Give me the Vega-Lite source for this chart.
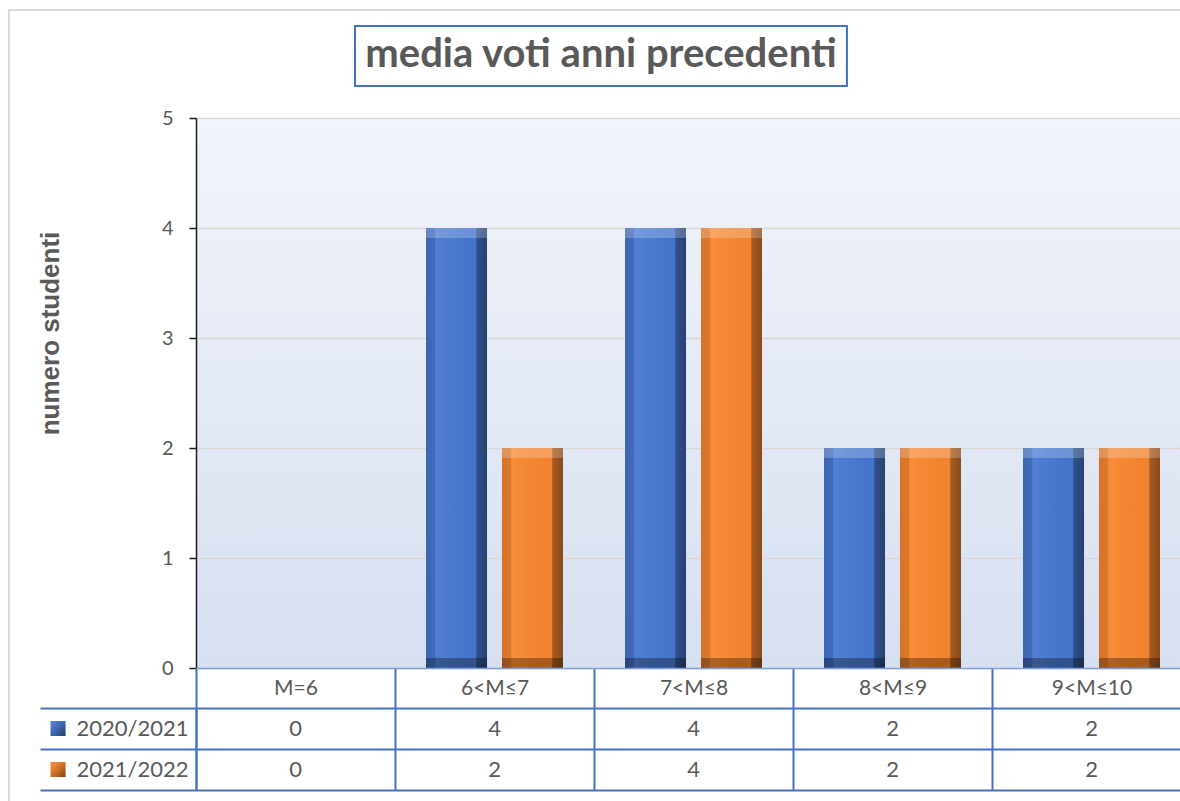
{
  "$schema": "https://vega.github.io/schema/vega-lite/v6.json",
  "width": 984,
  "height": 550,
  "autosize": {"type": "none"},
  "padding": {"left": 196, "top": 118, "right": 0, "bottom": 133},
  "background": "white",
  "view": {
    "fill": {"gradient": "linear", "x1": 0, "y1": 0, "x2": 0, "y2": 1,
      "stops": [{"offset": 0, "color": "#f1f4fa"}, {"offset": 1, "color": "#d7e0f1"}]},
    "stroke": null
  },
  "data": {
    "values": [
      {"cat": "M=6", "year": "2020/2021", "value": 0},
      {"cat": "M=6", "year": "2021/2022", "value": 0},
      {"cat": "6<M≤7", "year": "2020/2021", "value": 4},
      {"cat": "6<M≤7", "year": "2021/2022", "value": 2},
      {"cat": "7<M≤8", "year": "2020/2021", "value": 4},
      {"cat": "7<M≤8", "year": "2021/2022", "value": 4},
      {"cat": "8<M≤9", "year": "2020/2021", "value": 2},
      {"cat": "8<M≤9", "year": "2021/2022", "value": 2},
      {"cat": "9<M≤10", "year": "2020/2021", "value": 2},
      {"cat": "9<M≤10", "year": "2021/2022", "value": 2}
    ]
  },
  "layer": [
    {
      "layer": [
        {
          "mark": {"type": "rect", "fill": "transparent", "stroke": "#d9d9d9", "strokeWidth": 2},
          "data": {"values": [{}]},
          "encoding": {
            "x": {"datum": "M=6", "type": "nominal", "bandPosition": -0.94},
            "x2": {"datum": "9<M≤10", "bandPosition": 1.5},
            "y": {"datum": 5.982, "type": "quantitative"},
            "y2": {"datum": -1.3}
          }
        },
        {
          "mark": {"type": "bar"},
          "encoding": {
            "x": {
              "field": "cat", "type": "nominal",
              "scale": {"domain": ["M=6", "6<M≤7", "7<M≤8", "8<M≤9", "9<M≤10"], "range": [0, 995], "paddingInner": 0, "paddingOuter": 0},
              "axis": {"title": null}
            },
            "xOffset": {
              "field": "year", "type": "nominal",
              "scale": {"domain": ["2020/2021", "2021/2022"], "paddingInner": 0.197, "paddingOuter": 0.408}
            },
            "y": {
              "field": "value", "type": "quantitative",
              "scale": {"domain": [0, 5], "nice": false, "zero": true},
              "axis": {
                "orient": "left", "values": [0, 1, 2, 3, 4, 5], "format": "d", "title": "numero studenti",
                "titleFont": "Liberation Sans", "titleFontSize": 26, "titleFontWeight": "bold", "titleColor": "#595959",
                "titleX": -133, "titleY": 215, "titleAngle": -90, "titleBaseline": "bottom", "titleAlign": "center",
                "grid": true, "gridColor": "#dad6d2", "gridWidth": 1.5,
                "domainColor": "#1a1a1a", "domainWidth": 1.5, "tickColor": "#1a1a1a", "tickWidth": 1.5, "tickSize": 7,
                "labelPadding": 16, "labelFont": "Lato", "labelFontSize": 20, "labelColor": "#595959"
              }
            },
            "color": {
              "field": "year", "type": "nominal",
              "scale": {"domain": ["2020/2021", "2021/2022"], "range": ["#4677cf", "#f7862f"]},
              "legend": null
            }
          }
        },
        {
          "transform": [{"filter": "datum.value > 0"}],
          "mark": {
            "type": "bar",
            "fill": {"gradient": "linear", "x1": 0, "y1": 0, "x2": 1, "y2": 0,
              "stops": [
                {"offset": 0, "color": "rgba(0,0,0,0.14)"},
                {"offset": 0.15, "color": "rgba(0,0,0,0.10)"},
                {"offset": 0.16, "color": "rgba(255,255,255,0.06)"},
                {"offset": 0.82, "color": "rgba(0,0,0,0.02)"},
                {"offset": 0.83, "color": "rgba(0,0,0,0.32)"},
                {"offset": 1, "color": "rgba(0,0,0,0.45)"}
              ]}
          },
          "encoding": {
            "x": {"field": "cat", "type": "nominal", "axis": {"title": null}},
            "xOffset": {"field": "year", "type": "nominal"},
            "y": {"field": "value", "type": "quantitative"}
          }
        },
        {
          "transform": [{"filter": "datum.value > 0"}],
          "mark": {"type": "tick", "thickness": 10, "size": 61, "yOffset": 5, "color": "white", "opacity": 0.22},
          "encoding": {
            "x": {"field": "cat", "type": "nominal", "axis": {"title": null}},
            "xOffset": {"field": "year", "type": "nominal"},
            "y": {"field": "value", "type": "quantitative"}
          }
        },
        {
          "transform": [{"filter": "datum.value > 0"}],
          "mark": {"type": "tick", "thickness": 10, "size": 61, "yOffset": -5, "color": "black", "opacity": 0.3},
          "encoding": {
            "x": {"field": "cat", "type": "nominal", "axis": {"title": null}},
            "xOffset": {"field": "year", "type": "nominal"},
            "y": {"datum": 0, "type": "quantitative"}
          }
        },
        {
          "mark": {"type": "rect", "fill": "white", "stroke": "#4472c4", "strokeWidth": 2},
          "data": {"values": [{}]},
          "encoding": {
            "x": {"datum": "M=6", "type": "nominal", "bandPosition": 0.799},
            "x2": {"datum": "8<M≤9", "bandPosition": 0.271},
            "y": {"datum": 5.836, "type": "quantitative"},
            "y2": {"datum": 5.291}
          }
        },
        {
          "mark": {"type": "text", "text": "media voti anni precedenti", "font": "Lato", "fontSize": 40, "fontWeight": "bold", "color": "#595959", "align": "center", "baseline": "middle"},
          "data": {"values": [{}]},
          "encoding": {
            "x": {"datum": "7<M≤8", "type": "nominal", "bandPosition": 0.035},
            "y": {"datum": 5.57, "type": "quantitative"}
          }
        }
      ]
    },
    {
      "layer": [
        {
          "mark": {"type": "text", "font": "Lato", "fontSize": 22, "color": "#595959", "baseline": "middle"},
          "encoding": {
            "x": {"field": "cat", "type": "nominal", "axis": {"title": null}},
            "y": {
              "field": "year", "type": "nominal",
              "scale": {"domain": ["2020/2021", "2021/2022"], "range": [590, 672], "paddingInner": 0, "paddingOuter": 0},
              "axis": {
                "orient": "left", "title": null, "grid": true, "gridColor": "#4472c4", "gridWidth": 2,
                "tickBand": "extent", "ticks": true, "tickSize": 156, "tickColor": "#4472c4", "tickWidth": 2,
                "domain": true, "domainColor": "#4472c4", "domainWidth": 2,
                "labelPadding": -148, "labelFont": "Lato", "labelFontSize": 22, "labelColor": "#595959",
                "labelBaseline": "middle", "labelAlign": "right", "labelOverlap": false
              }
            },
            "text": {"field": "value", "type": "quantitative"}
          }
        },
        {
          "transform": [{"filter": "datum.cat === 'M=6'"}],
          "mark": {"type": "square", "size": 225, "xOffset": -138, "opacity": 1, "filled": true},
          "encoding": {
            "x": {"field": "cat", "type": "nominal", "bandPosition": 0, "axis": {"title": null}},
            "y": {"field": "year", "type": "nominal"},
            "color": {"field": "year", "type": "nominal", "legend": null}
          }
        },
        {
          "transform": [{"filter": "datum.cat === 'M=6'"}],
          "mark": {"type": "square", "size": 225, "xOffset": -138, "opacity": 1, "filled": true,
            "fill": {"gradient": "linear", "x1": 0, "y1": 0, "x2": 1, "y2": 1,
              "stops": [
                {"offset": 0, "color": "rgba(255,255,255,0.1)"},
                {"offset": 0.5, "color": "rgba(0,0,0,0.15)"},
                {"offset": 1, "color": "rgba(0,0,0,0.5)"}
              ]}},
          "encoding": {
            "x": {"field": "cat", "type": "nominal", "bandPosition": 0, "axis": {"title": null}},
            "y": {"field": "year", "type": "nominal"}
          }
        }
      ]
    }
  ],
  "resolve": {"scale": {"y": "independent"}, "axis": {"y": "independent"}},
  "config": {
    "font": "Lato",
    "axisX": {
      "orient": "bottom", "domain": true, "domainColor": "#7f9fd8", "domainWidth": 1.5,
      "ticks": true, "tickBand": "extent", "tickSize": 122, "tickColor": "#4472c4", "tickWidth": 2,
      "labelPadding": -102, "labelBaseline": "middle", "labelAlign": "center", "labelFont": "Lato", "labelFontSize": 21,
      "labelColor": "#595959", "labelAngle": 0, "grid": false, "labelOverlap": false, "labelFlush": false
    }
  }
}
